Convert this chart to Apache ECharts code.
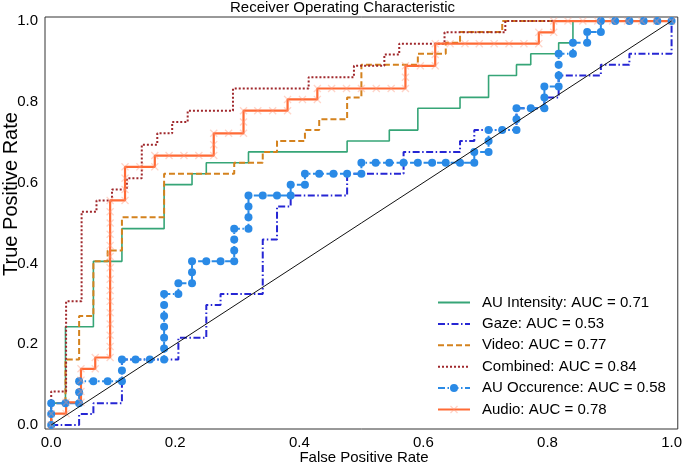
<!DOCTYPE html>
<html><head><meta charset="utf-8">
<script src="https://cdn.jsdelivr.net/npm/echarts@6/dist/echarts.min.js"></script>
<style>html,body{margin:0;padding:0;background:#fff}#c{width:685px;height:464px}</style>
</head><body><div id="c"></div>
<script>
const titleText = 'Receiver Operating Characteristic';
const xTitle = 'False Positive Rate';
const yTitle = 'True Positive Rate';
const xTicks = [0, 0.2, 0.4, 0.6, 0.8, 1.0];
const yTicks = [0, 0.2, 0.4, 0.6, 0.8, 1.0];
const legendNames = ['AU Intensity: AUC = 0.71', 'Gaze: AUC = 0.53', 'Video: AUC = 0.77',
  'Combined: AUC = 0.84', 'AU Occurence: AUC = 0.58', 'Audio: AUC = 0.78'];

const auIntensity = [[0,0],[0,.054],[.023,.054],[.023,.243],[.068,.243],[.068,.405],[.114,.405],[.114,.486],[.182,.486],[.182,.595],[.227,.595],[.227,.622],[.25,.622],[.25,.649],[.318,.649],[.318,.676],[.477,.676],[.477,.703],[.545,.703],[.545,.730],[.591,.730],[.591,.784],[.659,.784],[.659,.811],[.705,.811],[.705,.865],[.75,.865],[.75,.892],[.773,.892],[.773,.919],[.818,.919],[.818,.946],[.841,.946],[.841,1],[1,1]];

const gaze = [[0,0],[.045,0],[.045,.027],[.068,.027],[.068,.054],[.114,.054],[.114,.162],[.205,.162],[.205,.216],[.25,.216],[.25,.297],[.273,.297],[.273,.324],[.341,.324],[.341,.459],[.364,.459],[.364,.541],[.386,.541],[.386,.568],[.477,.568],[.477,.622],[.568,.622],[.568,.676],[.659,.676],[.659,.703],[.682,.703],[.682,.730],[.75,.730],[.75,.784],[.795,.784],[.795,.811],[.818,.811],[.818,.865],[.886,.865],[.886,.892],[.932,.892],[.932,.919],[1,.919],[1,1]];

const video = [[0,0],[0,.054],[.023,.054],[.023,.162],[.045,.162],[.045,.270],[.068,.270],[.068,.405],[.091,.405],[.091,.432],[.114,.432],[.114,.514],[.182,.514],[.182,.622],[.295,.622],[.295,.649],[.341,.649],[.341,.676],[.364,.676],[.364,.703],[.409,.703],[.409,.730],[.432,.730],[.432,.757],[.477,.757],[.477,.811],[.5,.811],[.5,.892],[.591,.892],[.591,.919],[.636,.919],[.636,.946],[.659,.946],[.659,.973],[.727,.973],[.727,1],[1,1]];

const combined = [[0,0],[0,.083],[.024,.083],[.024,.306],[.049,.306],[.049,.528],[.073,.528],[.073,.556],[.098,.556],[.098,.583],[.122,.583],[.122,.611],[.146,.611],[.146,.694],[.171,.694],[.171,.722],[.195,.722],[.195,.75],[.22,.75],[.22,.778],[.293,.778],[.293,.833],[.415,.833],[.415,.861],[.488,.861],[.488,.889],[.537,.889],[.537,.917],[.561,.917],[.561,.944],[.634,.944],[.634,.972],[.732,.972],[.732,1],[1,1]];

const auOccurence = [[0,0],[0,.027],[0,.054],[.023,.054],[.045,.054],[.045,.081],[.045,.108],[.068,.108],[.091,.108],[.114,.108],[.114,.135],[.114,.162],[.136,.162],[.159,.162],[.182,.162],[.182,.189],[.182,.216],[.182,.243],[.182,.270],[.182,.297],[.182,.324],[.205,.324],[.205,.351],[.227,.351],[.227,.378],[.227,.405],[.25,.405],[.273,.405],[.295,.405],[.295,.432],[.295,.459],[.295,.486],[.318,.486],[.318,.514],[.318,.541],[.318,.568],[.341,.568],[.364,.568],[.386,.568],[.386,.595],[.409,.595],[.409,.622],[.432,.622],[.455,.622],[.477,.622],[.5,.622],[.5,.649],[.523,.649],[.545,.649],[.568,.649],[.591,.649],[.614,.649],[.636,.649],[.659,.649],[.682,.649],[.682,.676],[.705,.676],[.705,.703],[.705,.730],[.727,.730],[.75,.730],[.75,.757],[.75,.784],[.773,.784],[.795,.784],[.795,.811],[.795,.838],[.818,.838],[.818,.865],[.818,.892],[.818,.919],[.841,.919],[.841,.946],[.864,.946],[.864,.973],[.886,.973],[.886,1],[.909,1],[.932,1],[.955,1],[.977,1],[1,1]];

const audio = [[0,0],[0,.028],[.024,.028],[.024,.056],[.048,.056],[.048,.083],[.048,.111],[.048,.139],[.071,.139],[.071,.167],[.095,.167],[.095,.194],[.095,.222],[.095,.25],[.095,.278],[.095,.306],[.095,.333],[.095,.361],[.095,.389],[.095,.417],[.095,.444],[.095,.472],[.095,.5],[.095,.528],[.095,.556],[.119,.556],[.119,.583],[.119,.611],[.119,.639],[.143,.639],[.167,.639],[.167,.667],[.19,.667],[.214,.667],[.238,.667],[.262,.667],[.262,.694],[.262,.722],[.286,.722],[.31,.722],[.31,.75],[.31,.778],[.333,.778],[.357,.778],[.381,.778],[.381,.806],[.405,.806],[.429,.806],[.429,.833],[.452,.833],[.476,.833],[.5,.833],[.524,.833],[.548,.833],[.571,.833],[.571,.861],[.571,.889],[.595,.889],[.619,.889],[.619,.917],[.619,.944],[.643,.944],[.667,.944],[.69,.944],[.714,.944],[.738,.944],[.762,.944],[.786,.944],[.786,.972],[.81,.972],[.81,1],[.833,1],[.857,1],[.881,1],[.905,1],[.929,1],[.952,1],[.976,1],[1,1]];

const chance = [[0,0],[1,1]];

const FONT = 'Liberation Sans, Arial, sans-serif';
const xMark = 'path://M0,1.2 L1.2,0 L5,3.8 L8.8,0 L10,1.2 L6.2,5 L10,8.8 L8.8,10 L5,6.2 L1.2,10 L0,8.8 L3.8,5 Z';

const chart = echarts.init(document.getElementById('c'), null, {renderer: 'canvas'});
function lineSeries(name, data, color, type, width, extra) {
  return Object.assign({
    name: name, type: 'line', data: data, symbol: 'none', showSymbol: false,
    lineStyle: {color: color, width: width, type: type, cap: 'butt'},
    itemStyle: {color: color}, z: 2, silent: true
  }, extra || {});
}
const noSymbol = {color: 'rgba(0,0,0,0)', borderWidth: 0, opacity: 0};
chart.setOption({
  animation: false,
  backgroundColor: '#fff',
  textStyle: {fontFamily: FONT},
  grid: {left: 45, right: 4, top: 17, bottom: 35, show: true, borderColor: '#333', borderWidth: 1, backgroundColor: 'transparent'},
  xAxis: {type: 'value', min: -0.01, max: 1.01,
    axisLine: {show: false}, axisTick: {show: false}, splitLine: {show: false},
    axisLabel: {customValues: xTicks, formatter: v => v.toFixed(1), fontSize: 15, color: '#000', margin: 6, fontFamily: FONT}},
  yAxis: {type: 'value', min: -0.01, max: 1.01,
    axisLine: {show: false}, axisTick: {show: false}, splitLine: {show: false},
    axisLabel: {customValues: yTicks, formatter: v => v.toFixed(1), fontSize: 15, color: '#000', margin: 7, fontFamily: FONT}},
  legend: {orient: 'vertical', left: 432, top: 290, itemWidth: 32, itemHeight: 10, itemGap: 6.4,
    data: [
      {name: legendNames[0], itemStyle: noSymbol},
      {name: legendNames[1], itemStyle: noSymbol},
      {name: legendNames[2], itemStyle: noSymbol},
      {name: legendNames[3], itemStyle: noSymbol},
      {name: legendNames[4]},
      {name: legendNames[5]}
    ],
    textStyle: {fontSize: 15, color: '#000', fontFamily: FONT, padding: [0,0,0,7]},
    selectedMode: false},
  graphic: [
    {type: 'text', left: 'center', top: 0, style: {text: titleText, font: '15px ' + FONT, fill: '#000'}},
    {type: 'text', x: 364, y: 450, style: {text: xTitle, font: '15px ' + FONT, fill: '#000', textAlign: 'center', textVerticalAlign: 'top'}},
    {type: 'text', x: 1, y: 194, rotation: Math.PI / 2, style: {text: yTitle, font: '20px ' + FONT, fill: '#000', textAlign: 'center', textVerticalAlign: 'top'}}
  ],
  series: [
    lineSeries(legendNames[0], auIntensity, '#36a577', 'solid', 1.6),
    lineSeries(legendNames[1], gaze, '#2626d4', [7, 2.5, 1.5, 2.5], 2),
    lineSeries(legendNames[2], video, '#d4821e', [6, 3], 2),
    lineSeries(legendNames[3], combined, '#a0282c', [2, 2], 2),
    lineSeries(legendNames[4], auOccurence, '#2a8ae6', [7, 2.5, 1.5, 2.5], 2,
      {symbol: 'circle', symbolSize: 8, showSymbol: true}),
    lineSeries(legendNames[5], audio, '#ff6a35', 'solid', 2.2,
      {symbol: xMark, symbolSize: 8, showSymbol: true, itemStyle: {color: 'rgba(255,150,120,0.4)'}}),
    {type: 'line', data: chance, symbol: 'none', lineStyle: {color: '#111', width: 1}, z: 3, silent: true}
  ]
});
</script></body></html>
